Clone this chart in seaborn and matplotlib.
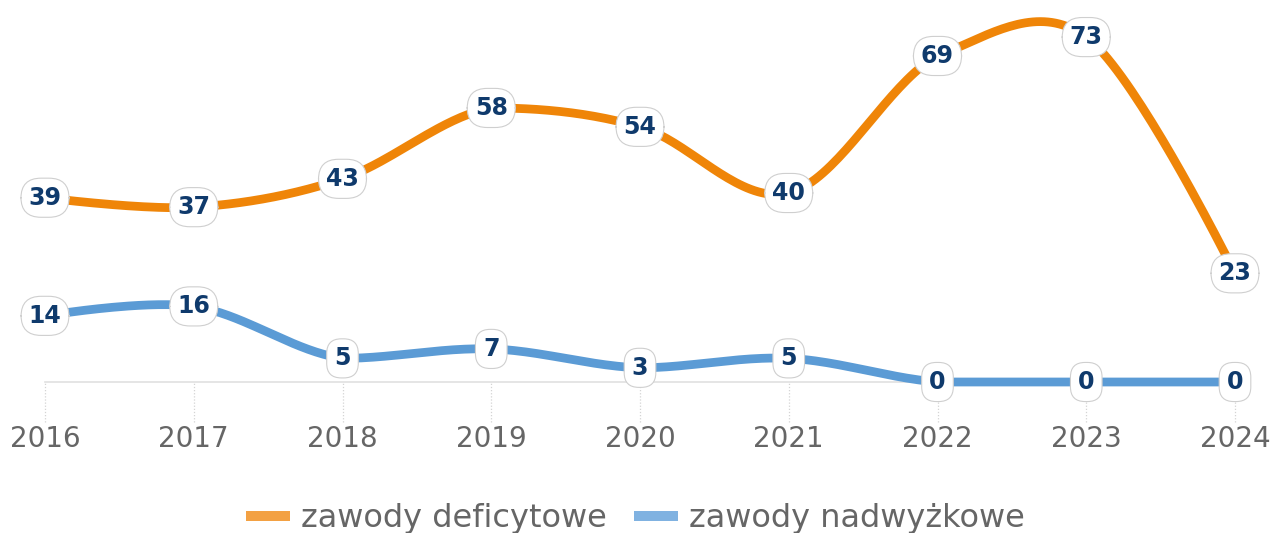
import numpy as np
import pandas as pd
import seaborn as sns
import matplotlib.pyplot as plt
from matplotlib.lines import Line2D

# data
years = [2016, 2017, 2018, 2019, 2020, 2021, 2022, 2023, 2024]
deficytowe = [39, 37, 43, 58, 54, 40, 69, 73, 23]
nadwyzkowe = [14, 16, 5, 7, 3, 5, 0, 0, 0]
series_names = ['zawody deficytowe', 'zawody nadwyżkowe']
line_colors = ['#ef8508', '#5b9bd5']
legend_colors = ['#f3a143', '#80b2e1']


def spline_path(xs, ys, n=40):
    # cardinal bezier through the points, for the smooth line look
    xs = np.asarray(xs, float)
    ys = np.asarray(ys, float)
    m = len(xs)
    out = []
    t = np.linspace(0, 1, n)[:, None]
    for i in range(m - 1):
        p0 = np.array([xs[i], ys[i]])
        p3 = np.array([xs[i + 1], ys[i + 1]])
        if i == 0:
            p1 = p0
        else:
            p1 = p0 + (p3 - np.array([xs[i - 1], ys[i - 1]])) / 6
            # outgoing control stays between this point and the next one
            p1[1] = min(max(p1[1], min(p0[1], p3[1])), max(p0[1], p3[1]))
        if i + 1 == m - 1:
            p2 = p3
        else:
            p2 = p3 - (np.array([xs[i + 2], ys[i + 2]]) - p0) / 6
        b = ((1 - t) ** 3) * p0 + 3 * ((1 - t) ** 2) * t * p1 + 3 * (1 - t) * t ** 2 * p2 + t ** 3 * p3
        out.append(b if i == 0 else b[1:])
    out = np.vstack(out)
    return out[:, 0], out[:, 1]


sns.set_style('white')
plt.rcParams['font.family'] = ['DejaVu Sans']

fig = plt.figure(figsize=(12.7, 5.33), dpi=100)
ax = fig.add_axes([45 / 1270, (533 - 382) / 533, 1190 / 1270, 378 / 533])

for vals, name, col in zip([deficytowe, nadwyzkowe], series_names, line_colors):
    sx, sy = spline_path(years, vals)
    df = pd.DataFrame({'x': sx, 'y': sy})
    sns.lineplot(data=df, x='x', y='y', ax=ax, color=col, linewidth=6.3,
                 sort=False, estimator=None, clip_on=False, zorder=3,
                 solid_capstyle='butt')

for vals in [deficytowe, nadwyzkowe]:
    for x, v in zip(years, vals):
        rs = 0.85 if len(str(v)) > 1 else 0.62
        ax.text(x, v, str(v), ha='center', va='center', fontsize=17,
                fontweight='bold', color='#0f3a6c', zorder=5, clip_on=False,
                bbox=dict(boxstyle=f'round,pad=0.32,rounding_size={rs}',
                          fc='white', ec='#cfcfcf', lw=0.8))

ax.set_xlim(2016, 2024)
ax.set_ylim(0, 80)
ax.set_xticks(years)
ax.set_xticklabels([str(y) for y in years], fontsize=20, color='#666666')
ax.set_yticks([])
ax.tick_params(axis='x', length=0, pad=31)
ax.vlines(years, -8.4, 0, colors='#d4d4d4', linestyles=(0, (1, 1.5)),
          linewidth=0.9, clip_on=False, zorder=0)
for side in ['top', 'right', 'left']:
    ax.spines[side].set_visible(False)
ax.spines['bottom'].set_color('#e0e0e0')
ax.spines['bottom'].set_linewidth(1.2)
ax.spines['bottom'].set_zorder(1)
ax.set_xlabel('')
ax.set_ylabel('')

handles = [Line2D([0], [0], color=c, lw=7.2, solid_capstyle='butt') for c in legend_colors]
fig.legend(handles, series_names, loc='center', bbox_to_anchor=(0.5, (533 - 519) / 533),
           ncol=2, frameon=False, fontsize=23, labelcolor='#666666',
           handlelength=1.4, handletextpad=0.32, columnspacing=0.85)

fig.savefig('out.png', dpi=100)
